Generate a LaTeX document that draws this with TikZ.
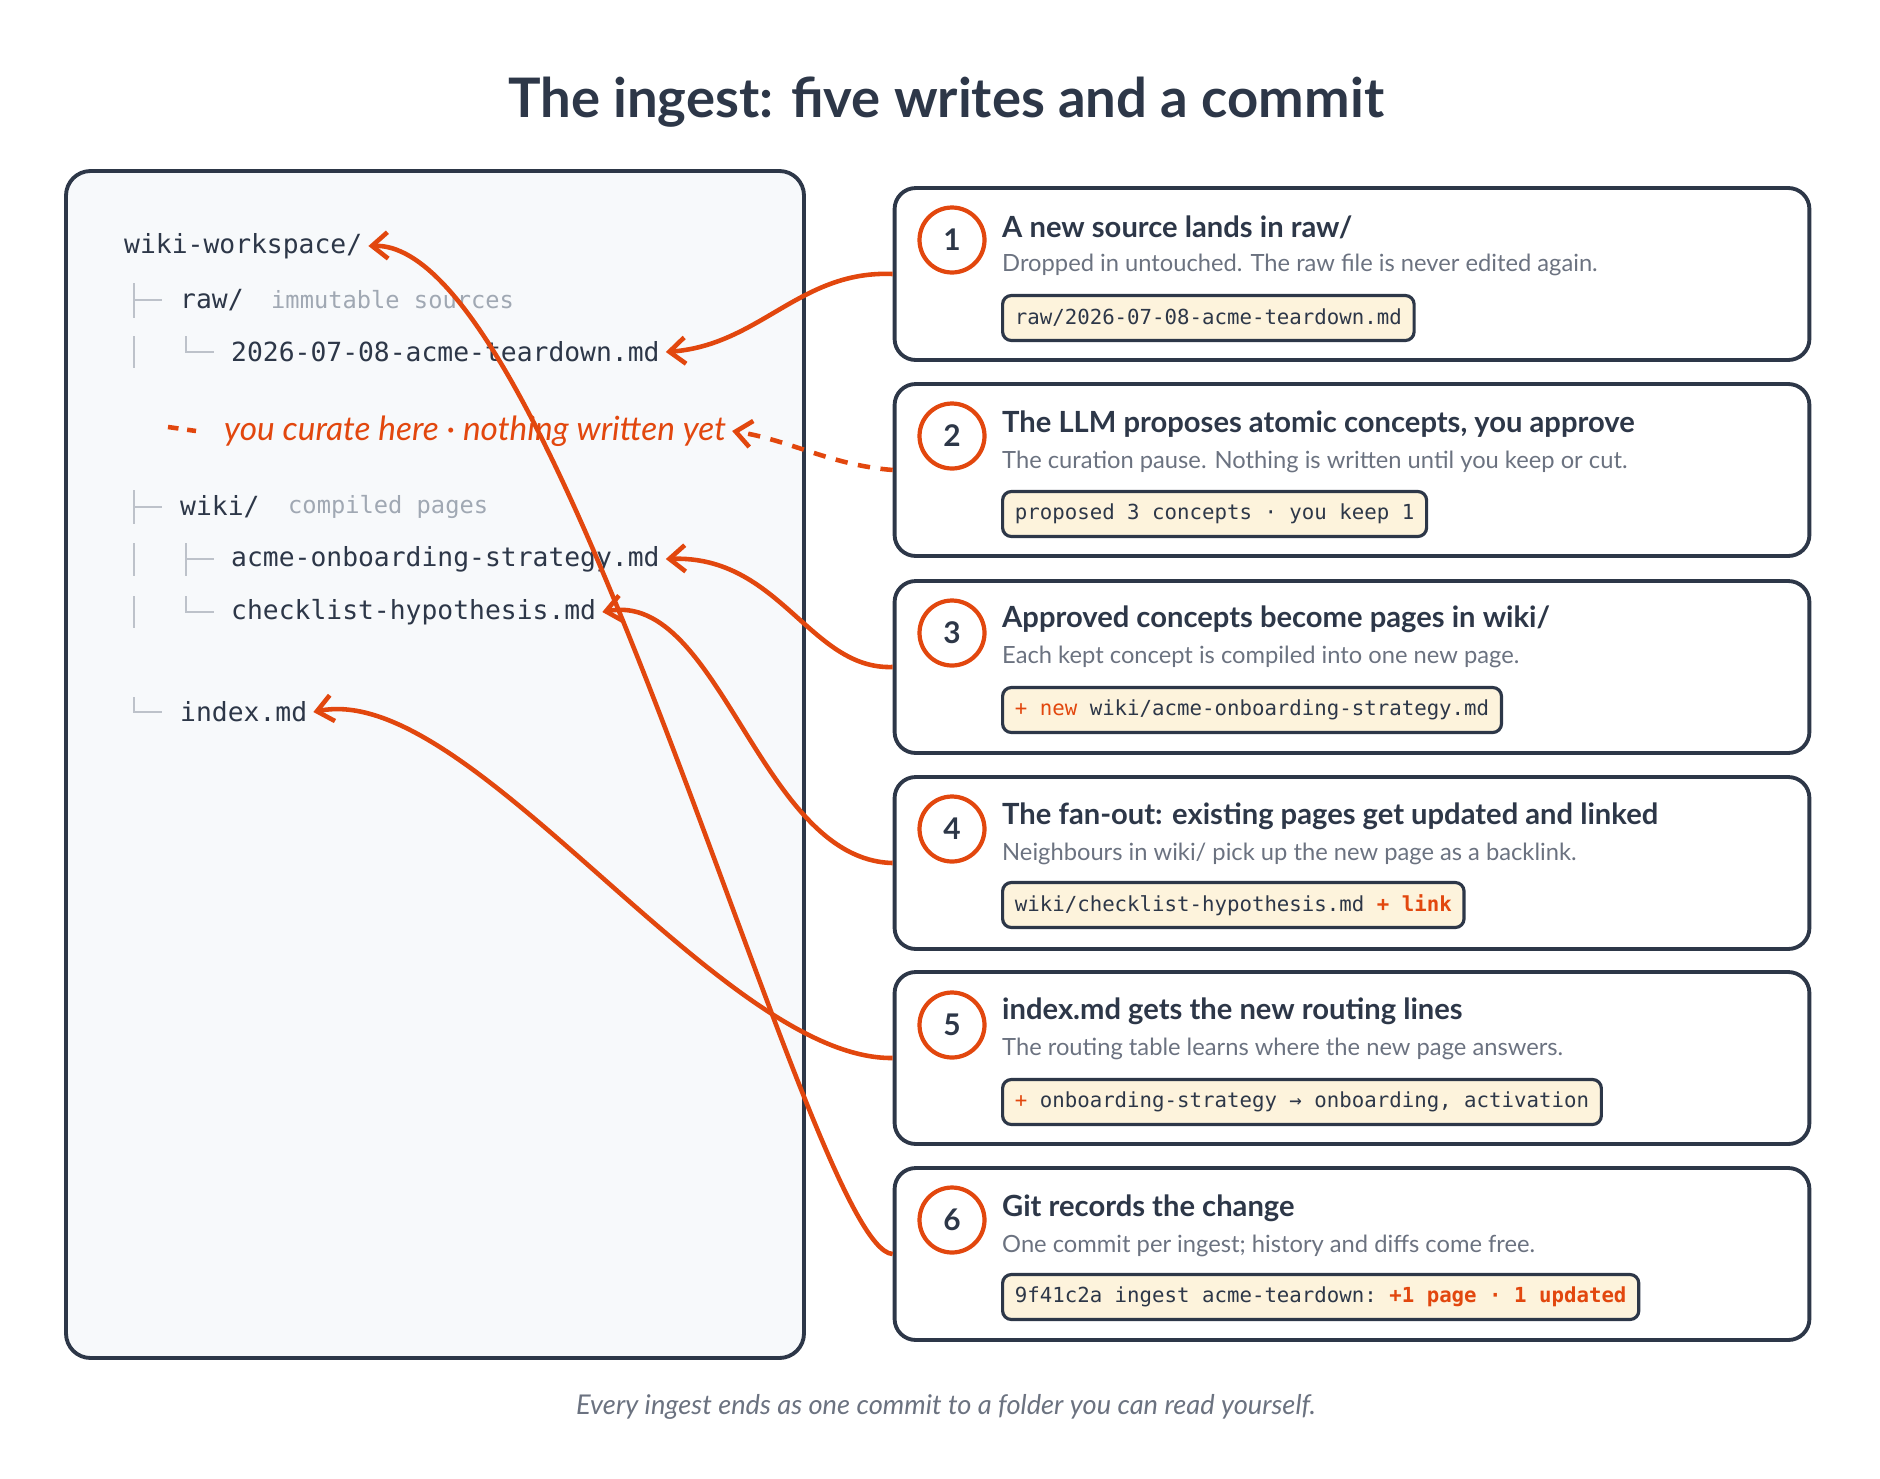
\documentclass[tikz,border=0pt]{standalone}
\usepackage{fontspec}
\setmainfont{Lato}
\setmonofont{DejaVu Sans Mono}
\usetikzlibrary{arrows.meta}
\definecolor{ink}{HTML}{2D3748}
\definecolor{rust}{HTML}{E2470E}
\definecolor{muted}{HTML}{6B7280}
\definecolor{faint}{HTML}{A0A8B3}
\definecolor{cream}{HTML}{FDF3DC}
\definecolor{paper}{HTML}{F7F9FB}
\begin{document}
\begin{tikzpicture}[x=0.02cm,y=-0.02cm]
	\tikzstyle{card}=[draw=ink, line width=2.2pt, rounded corners=12pt, minimum width=18.3cm, minimum height=3.44cm, inner sep=0pt]
	\tikzstyle{num}=[draw=rust, circle, line width=2.4pt, minimum size=1.3cm, font=\bfseries\fontsize{17}{19}\selectfont, text=ink]
	\tikzstyle{head}=[anchor=west, font=\bfseries\fontsize{16.6}{18}\selectfont, text=ink]
	\tikzstyle{sub}=[anchor=west, font=\fontsize{13.5}{15}\selectfont, text=muted]
	\tikzstyle{code}=[anchor=west, draw=ink, line width=1.8pt, fill=cream, rounded corners=5pt, inner xsep=7pt, minimum height=0.9cm, font=\ttfamily\fontsize{11.8}{13}\selectfont, text=ink]
	\tikzstyle{tree}=[anchor=west, font=\ttfamily\fontsize{15}{17}\selectfont, text=ink]
	\tikzstyle{note}=[anchor=west, font=\ttfamily\fontsize{13.5}{15}\selectfont, text=faint]
	\tikzstyle{arrow}=[draw=rust, line width=2.6pt, -{Straight Barb[length=9pt,width=15pt,line width=2.6pt]}]
	\tikzstyle{branch}=[draw=faint!70, line width=1pt]

	\useasboundingbox (0,0) rectangle (1880,1478);

	% Title
	\node [font=\bfseries\fontsize{31}{35}\selectfont, text=ink] (title) at (946,102) {The ingest: five writes and a commit};

	% Folder panel
	\draw [draw=ink, fill=paper, line width=2.2pt, rounded corners=14pt] (66,171) rectangle (804,1358);
	\node [tree] (ws) at (118,246) {wiki-workspace/};
	\node [tree] (raw) at (174,300) {raw/};
	\node [note] (rawnote) at (265,300) {immutable sources};
	\node [tree] (src) at (225,352) {2026-07-08-acme-teardown.md};
	\node [anchor=west, font=\itshape\fontsize{19}{21}\selectfont, text=rust] (curate) at (218,431) {you curate here · nothing written yet};
	\node [tree] (wiki) at (174,507) {wiki/};
	\node [note] (wikinote) at (282,507) {compiled pages};
	\node [tree] (acme) at (225,559) {acme-onboarding-strategy.md};
	\node [tree] (check) at (225,612) {checklist-hypothesis.md};
	\node [tree] (index) at (174,712) {index.md};

	% Tree branches
	\path [branch] (134,283) -- (134,318) (134,300) -- (162,300);
	\path [branch] (134,336) -- (134,368) (186,336) -- (186,352) -- (214,352);
	\path [branch] (134,490) -- (134,524) (134,507) -- (162,507);
	\path [branch] (134,543) -- (134,576) (186,543) -- (186,576) (186,559) -- (214,559);
	\path [branch] (134,596) -- (134,628) (186,596) -- (186,612) -- (214,612);
	\path [branch] (134,697) -- (134,712) -- (162,712);
	\draw [draw=rust, line width=2.6pt, dash pattern=on 6pt off 5pt] (168,427) -- (196,431);

	% Cards
	\node [card] (c1) at (1352,274) {};
	\node [card] (c2) at (1352,470) {};
	\node [card] (c3) at (1352,667) {};
	\node [card] (c4) at (1352,863) {};
	\node [card] (c5) at (1352,1058) {};
	\node [card] (c6) at (1352,1254) {};

	\node [num] (n1) at (952,240) {1};
	\node [head] (h1) at (996,227) {A new source lands in raw/};
	\node [sub] (s1) at (996,265) {Dropped in untouched. The raw file is never edited again.};
	\node [code] (k1) at (1001,318) {raw/2026-07-08-acme-teardown.md};

	\node [num] (n2) at (952,436) {2};
	\node [head] (h2) at (996,424) {The LLM proposes atomic concepts, you approve};
	\node [sub] (s2) at (996,462) {The curation pause. Nothing is written until you keep or cut.};
	\node [code] (k2) at (1001,514) {proposed 3 concepts · you keep 1};

	\node [num] (n3) at (952,633) {3};
	\node [head] (h3) at (996,619) {Approved concepts become pages in wiki/};
	\node [sub] (s3) at (996,657) {Each kept concept is compiled into one new page.};
	\node [code] (k3) at (1001,710) {\textcolor{rust}{+ new} wiki/acme-onboarding-strategy.md};

	\node [num] (n4) at (952,829) {4};
	\node [head] (h4) at (996,816) {The fan-out: existing pages get updated and linked};
	\node [sub] (s4) at (996,854) {Neighbours in wiki/ pick up the new page as a backlink.};
	\node [code] (k4) at (1001,905) {wiki/checklist-hypothesis.md \textcolor{rust}{\bfseries + link}};

	\node [num] (n5) at (952,1025) {5};
	\node [head] (h5) at (996,1011) {index.md gets the new routing lines};
	\node [sub] (s5) at (996,1049) {The routing table learns where the new page answers.};
	\node [code] (k5) at (1001,1102) {\textcolor{rust}{+} onboarding-strategy → onboarding, activation};

	\node [num] (n6) at (952,1220) {6};
	\node [head] (h6) at (996,1208) {Git records the change};
	\node [sub] (s6) at (996,1246) {One commit per ingest; history and diffs come free.};
	\node [code] (k6) at (1001,1297) {9f41c2a ingest acme-teardown: \textcolor{rust}{\bfseries +1 page · 1 updated}};

	% Footer
	\node [font=\itshape\fontsize{15.5}{17}\selectfont, text=muted] (foot) at (946,1407) {Every ingest ends as one commit to a folder you can read yourself.};

	% Arrows
	\path [arrow] (c1.west) .. controls (800,270) and (760,345) .. (src.east);
	\path [arrow, dash pattern=on 7pt off 6pt] (c2.west) .. controls (830,465) and (790,440) .. (curate.east);
	\path [arrow] (c3.west) .. controls (810,670) and (780,555) .. (acme.east);
	\path [arrow] (c4.west) .. controls (760,860) and (720,590) .. (check.east);
	\path [arrow] (c5.west) .. controls (720,1060) and (470,680) .. (index.east);
	\path [arrow] (c6.west) .. controls (810,1250) and (560,240) .. (ws.east);
\end{tikzpicture}
\end{document}
